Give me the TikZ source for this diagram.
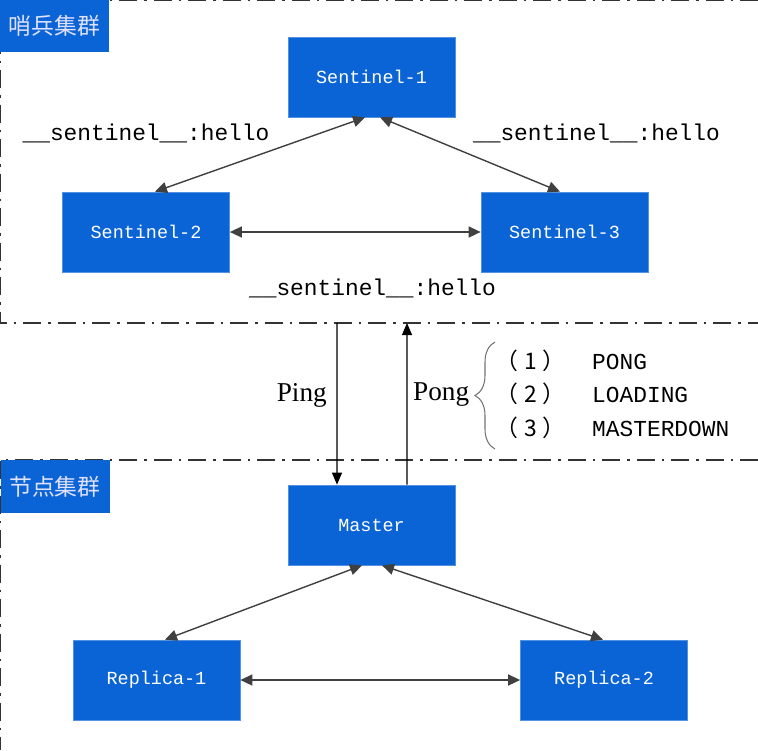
\documentclass[tikz,border=0pt]{standalone}
\usepackage{fontspec}
\setmainfont{Liberation Serif}
\setmonofont{Liberation Mono}
\newfontfamily\cjk{Noto Sans CJK SC}
\usetikzlibrary{arrows.meta,decorations.pathreplacing}

\definecolor{boxblue}{RGB}{10,100,214}
\newcommand{\replyno}[1]{\makebox[1.74cm][l]{\cjk\kern-0.2cm（\kern0.12cm#1\kern0.12cm）}}

\begin{document}
\begin{tikzpicture}[
    nodebox/.style={draw=boxblue!70!white,fill=boxblue,text=white,minimum width=3.34cm,minimum height=1.6cm,font=\ttfamily\fontsize{10.5}{12}\selectfont},
    tagbox/.style={fill=boxblue,text=white!88!blue,minimum width=2.18cm,minimum height=1.05cm,inner sep=0pt,font=\cjk\fontsize{13}{15}\selectfont},
    link/.style={{Triangle[length=2.4mm,width=2.2mm]}-{Triangle[length=2.4mm,width=2.2mm]},black!75,thick},
    msg/.style={-{Triangle[length=2.4mm,width=2mm]},black,semithick},
    hello/.style={font=\ttfamily\fontsize{13}{15}\selectfont},
    reply/.style={anchor=west,font=\ttfamily\fontsize{13}{15}\selectfont},
    border/.style={line width=1.4pt,black!80,dash pattern=on 0.36cm off 0.14cm on 0.05cm off 0.14cm}]
    \useasboundingbox (0,0) rectangle (15.16,-15);

    % cluster frames
    \draw[border] (15.16,0) -- (0,0) -- (0,-6.46) -- (15.16,-6.46);
    \draw[border] (15.16,-9.2) -- (0,-9.2) -- (0,-15);
    \node[tagbox] (sentag) at (1.09,-0.52) {哨兵集群};
    \node[tagbox] (nodetag) at (1.1,-9.73) {节点集群};

    % sentinels
    \node[nodebox] (s1) at (7.43,-1.54) {Sentinel-1};
    \node[nodebox] (s2) at (2.92,-4.64) {Sentinel-2};
    \node[nodebox] (s3) at (11.29,-4.64) {Sentinel-3};
    \draw[link] ([xshift=-0.13cm]s1.south) -- ([xshift=0.18cm]s2.north);
    \draw[link] ([xshift=0.17cm]s1.south) -- ([xshift=-0.09cm]s3.north);
    \draw[link] (s2) -- (s3);
    \node[hello] (hello1) at (2.92,-2.66) {\_\_sentinel\_\_:hello};
    \node[hello] (hello2) at (11.93,-2.66) {\_\_sentinel\_\_:hello};
    \node[hello] (hello3) at (7.45,-5.76) {\_\_sentinel\_\_:hello};

    % data nodes
    \node[nodebox] (master) at (7.43,-10.5) {Master};
    \node[nodebox] (r1) at (3.13,-13.6) {Replica-1};
    \node[nodebox] (r2) at (12.08,-13.6) {Replica-2};
    \draw[link] ([xshift=-0.19cm]master.south) -- ([xshift=0.17cm]r1.north);
    \draw[link] ([xshift=0.21cm]master.south) -- ([xshift=-0.02cm]r2.north);
    \draw[link] (r1) -- (r2);

    % ping / pong
    \coordinate (pingtop) at (6.74,-6.46);
    \coordinate (pongtop) at (8.14,-6.46);
    \draw[msg] (pingtop) -- ([xshift=-0.69cm]master.north);
    \draw[msg] ([xshift=0.71cm]master.north) -- (pongtop);
    \node[anchor=east,font=\fontsize{15.5}{17}\selectfont] (ping) at (6.66,-7.9) {Ping};
    \node[anchor=west,font=\fontsize{15.5}{17}\selectfont] (pong) at (8.14,-7.9) {Pong};
    \draw[black!55,semithick,decorate,decoration={brace,amplitude=0.4cm}] (9.9,-8.98) -- (9.9,-6.84);
    \node[reply] (rep1) at (9.98,-7.22) {\replyno{1}PONG};
    \node[reply] (rep2) at (9.98,-7.88) {\replyno{2}LOADING};
    \node[reply] (rep3) at (9.98,-8.56) {\replyno{3}MASTERDOWN};
\end{tikzpicture}
\end{document}
